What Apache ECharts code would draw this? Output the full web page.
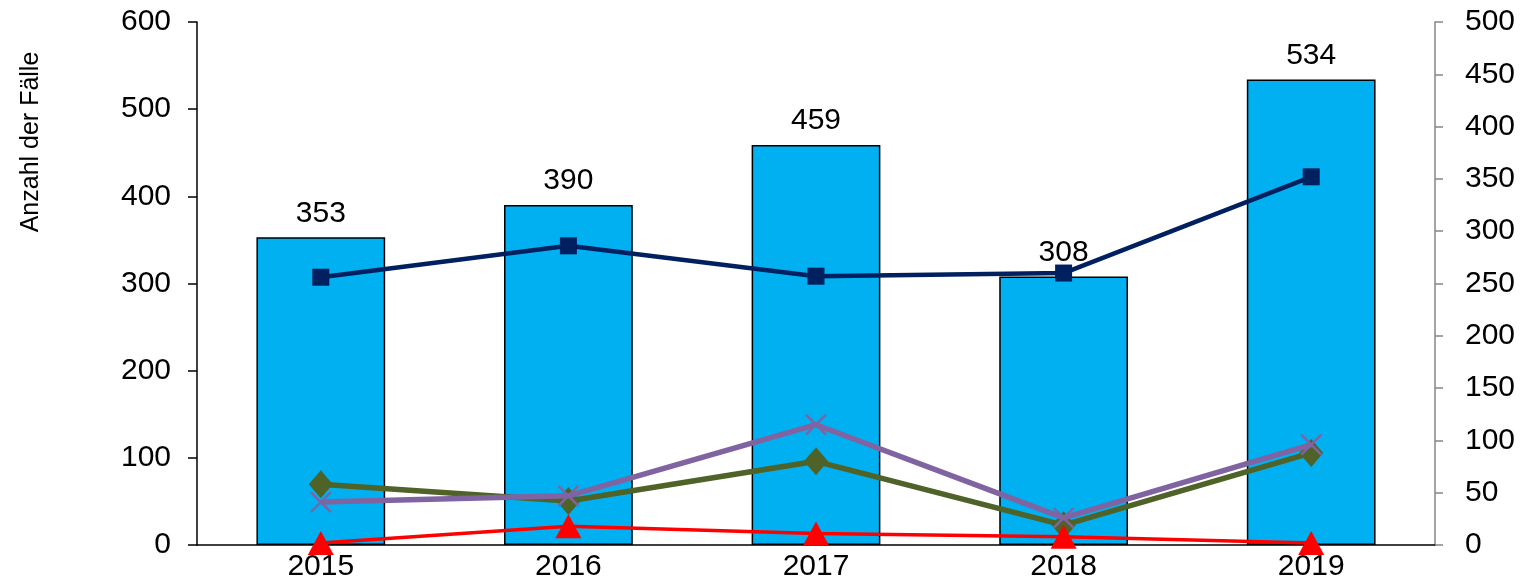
<!DOCTYPE html>
<html>
<head>
<meta charset="utf-8">
<script src="https://cdn.jsdelivr.net/npm/echarts@6/dist/echarts.min.js"></script>
<style>
  html, body { margin: 0; padding: 0; background: #fff; }
  #chart { width: 1529px; height: 582px; }
</style>
</head>
<body>
<div id="chart"></div>
<script>
// Jahre
var years = ['2015', '2016', '2017', '2018', '2019'];
// Balken (linke Achse)
var totalCases = [353, 390, 459, 308, 534];
// Linien (rechte Achse)
var navySeries = [256, 286, 257, 260, 352];
var greenSeries = [58, 42, 80, 19, 88];
var purpleSeries = [41, 47, 115, 26, 96];
var redSeries = [2, 18, 11, 8, 2];
// Achsen
var leftMax = 600, leftStep = 100;
var rightMax = 500, rightStep = 50;
var yAxisTitle = 'Anzahl der Fälle';

var font = '"Liberation Sans", Arial, sans-serif';
var chart = echarts.init(document.getElementById('chart'));

function lineSeries(data, color, width, symbol, size, z) {
    return {
        type: 'line',
        yAxisIndex: 1,
        data: data,
        symbol: symbol,
        symbolSize: size,
        z: z,
        lineStyle: { color: color, width: width },
        itemStyle: { color: color, borderColor: color, borderWidth: symbol.indexOf('path://') === 0 ? 2.5 : 0 },
        emphasis: { disabled: true }
    };
}

var option = {
    animation: false,
    grid: { left: 197, right: 94, top: 22, bottom: 36 },
    graphic: [{
        type: 'text',
        x: 31, y: 142,
        rotation: Math.PI / 2,
        style: {
            text: yAxisTitle,
            font: '25px ' + font,
            fill: '#000',
            align: 'center',
            verticalAlign: 'middle'
        }
    }],
    xAxis: {
        type: 'category',
        data: years,
        axisLine: { lineStyle: { color: '#000', width: 1.5 } },
        axisTick: { length: 40, lineStyle: { color: '#000', width: 1.5 } },
        axisLabel: { color: '#000', fontSize: 30, fontFamily: font, margin: 7 }
    },
    yAxis: [{
        type: 'value',
        min: 0, max: leftMax, interval: leftStep,
        splitLine: { show: false },
        axisLine: { show: true, lineStyle: { color: '#000', width: 1.5 } },
        axisTick: { show: true, length: 9, lineStyle: { color: '#000', width: 1.5 } },
        axisLabel: { color: '#000', fontSize: 30, fontFamily: font, margin: 26 }
    }, {
        type: 'value',
        min: 0, max: rightMax, interval: rightStep,
        splitLine: { show: false },
        axisLine: { show: true, lineStyle: { color: '#868686', width: 1.5 } },
        axisTick: { show: true, length: 8, lineStyle: { color: '#868686', width: 1.5 } },
        axisLabel: { color: '#000', fontSize: 30, fontFamily: font, margin: 30 }
    }],
    series: [
        {
            type: 'bar',
            data: totalCases,
            barWidth: '52%',
            z: 1,
            itemStyle: { color: '#00B0F0', borderColor: '#000', borderWidth: 1.5 },
            label: { show: true, position: 'top', distance: 9, color: '#000', fontSize: 30, fontFamily: font },
            emphasis: { disabled: true }
        },
        lineSeries(navySeries, '#002060', 4.5, 'rect', 17, 3),
        lineSeries(greenSeries, '#4F6228', 5.5, 'diamond', [24, 28], 4),
        lineSeries(purpleSeries, '#8064A2', 5.5, 'path://M0,0L10,10M10,0L0,10', 20, 5),
        lineSeries(redSeries, '#FF0000', 3.5, 'triangle', [26, 24], 6)
    ]
};
chart.setOption(option);
</script>
</body>
</html>
